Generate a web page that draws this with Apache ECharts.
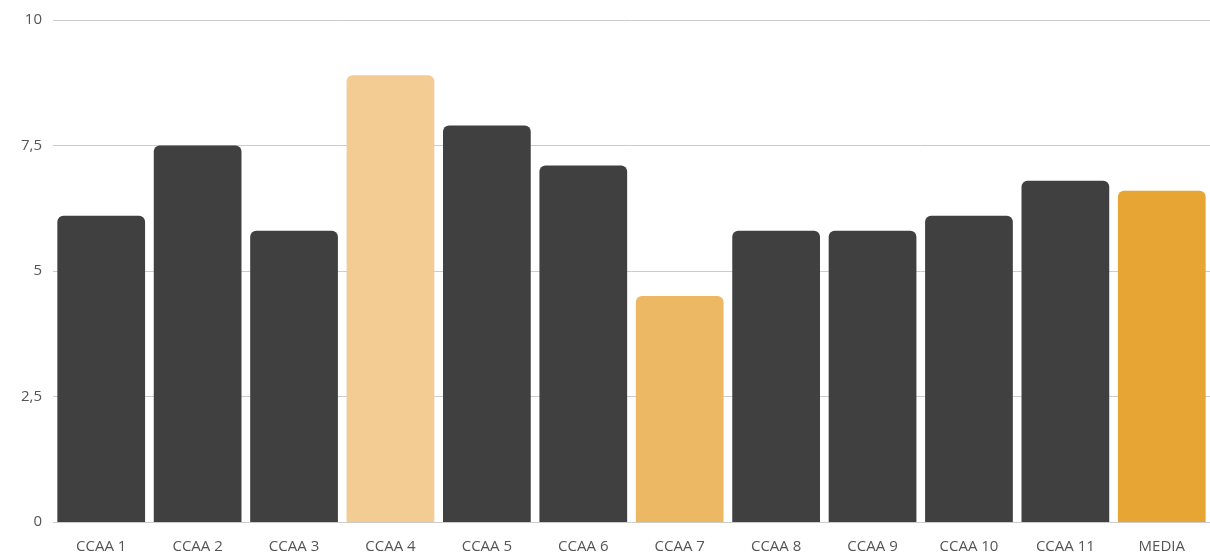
<!DOCTYPE html>
<html>
<head>
<meta charset="utf-8">
<script src="https://cdn.jsdelivr.net/npm/echarts@6/dist/echarts.min.js"></script>
<style>
  html, body { margin: 0; padding: 0; background: #ffffff; }
  #chart { width: 1210px; height: 560px; }
</style>
</head>
<body>
<div id="chart"></div>
<script>
// Regions and their scores, plus the overall average
const categories = ['CCAA 1', 'CCAA 2', 'CCAA 3', 'CCAA 4', 'CCAA 5', 'CCAA 6', 'CCAA 7', 'CCAA 8', 'CCAA 9', 'CCAA 10', 'CCAA 11', 'MEDIA'];
const values = [6.1, 7.5, 5.8, 8.9, 7.9, 7.1, 4.5, 5.8, 5.8, 6.1, 6.8, 6.6];
const barColors = ['#404040', '#404040', '#404040', '#f3cc93', '#404040', '#404040', '#edb864', '#404040', '#404040', '#404040', '#404040', '#e7a633'];

const chart = echarts.init(document.getElementById('chart'), null, { renderer: 'canvas' });

chart.setOption({
  animation: false,
  grid: { left: 53, top: 20, bottom: 38, width: 1159 },
  xAxis: {
    type: 'category',
    data: categories,
    axisLine: { show: false },
    axisTick: { show: false },
    axisLabel: {
      color: '#555555',
      fontFamily: 'Open Sans',
      fontSize: 15,
      margin: 17,
      interval: 0
    }
  },
  yAxis: {
    type: 'value',
    min: 0,
    max: 10,
    interval: 2.5,
    axisLine: { show: false },
    axisTick: { show: false },
    splitLine: { lineStyle: { color: '#cccccc', width: 1 } },
    axisLabel: {
      color: '#555555',
      fontFamily: 'Open Sans',
      fontSize: 15,
      margin: 11,
      formatter: v => String(v).replace('.', ',')
    }
  },
  series: [{
    type: 'bar',
    data: values.map((v, i) => ({ value: v, itemStyle: { color: barColors[i] } })),
    barCategoryGap: '9%',
    itemStyle: { borderRadius: [6, 6, 0, 0] }
  }]
});
</script>
</body>
</html>
